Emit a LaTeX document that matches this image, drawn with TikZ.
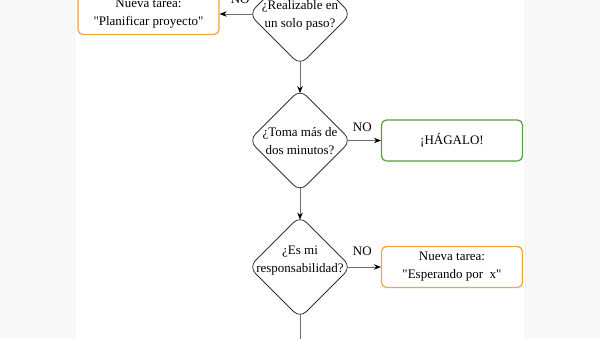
\documentclass[tikz,border=0pt]{standalone}
\usepackage{fontspec}
\setmainfont{Liberation Serif}[Ligatures=TeXOff]
\usetikzlibrary{shapes.geometric,arrows.meta}
\definecolor{pagebg}{HTML}{F8F8F8}
\definecolor{orangeb}{HTML}{F2A33A}
\definecolor{greenb}{HTML}{5A9E3C}
\definecolor{linegray}{HTML}{6E6E6E}
\begin{document}
\begin{tikzpicture}[x=1pt,y=-1pt,
  txt/.style={font=\fontsize{13}{18}\selectfont},
  decision/.style={diamond, draw=black!80, line width=0.8pt, rounded corners=9pt,
    minimum width=102pt, minimum height=102pt, inner sep=0pt, outer sep=0pt},
  dlabel/.style={txt, align=center, inner sep=0pt},
  taskbox/.style={rectangle, draw=orangeb, line width=1.2pt, rounded corners=5pt,
    minimum width=141pt, minimum height=41pt, align=center, txt, inner sep=0pt},
  donebox/.style={taskbox, draw=greenb},
  flow/.style={draw=linegray, line width=0.9pt,
    -{Stealth[length=7pt,width=5.5pt,color=black]}},
  inset/.style={shorten <=-3.6pt},
  insetboth/.style={shorten <=-3.6pt, shorten >=-3.6pt},
  nolabel/.style={txt, inner sep=0pt}
]
\useasboundingbox (0,0) rectangle (600,338);
\fill[pagebg] (0,0) rectangle (600,338);
\fill[white] (75,0) rectangle (525,338);
\draw[black!5, line width=0.6pt] (74.7,0) -- (74.7,338);
\draw[black!5, line width=0.6pt] (525.3,0) -- (525.3,338);

\node[decision, label={[dlabel, yshift=-1pt]center:{¿Realizable en\\un solo paso?}}] (d1) at (300,14) {};
\node[taskbox] (t1) at (148.5,14) {Nueva tarea:\\"Planificar proyecto"};
\node[decision, label={[dlabel, yshift=-1pt]center:{¿Toma más de\\dos minutos?}}] (d2) at (300,140.5) {};
\node[donebox] (g) at (452,140.5) {¡HÁGALO!};
\node[decision, label={[dlabel, yshift=6pt]center:{¿Es mi\\responsabilidad?}}] (d3) at (300,267) {};
\node[taskbox] (t2) at (452,267) {Nueva tarea:\\"Esperando por\ \ x"};
\coordinate (end) at (300,346);

\draw[flow, inset] (d1.west) -- node[nolabel, pos=0.3, yshift=15pt] (no1) {NO} (t1.east);
\draw[flow, insetboth] (d1.south) -- (d2.north);
\draw[flow, inset] (d2.east) -- node[nolabel, pos=0.38, yshift=13pt] (no2) {NO} (g.west);
\draw[flow, insetboth] (d2.south) -- (d3.north);
\draw[flow, inset] (d3.east) -- node[nolabel, pos=0.38, yshift=16pt] (no3) {NO} (t2.west);
\draw[flow, inset] (d3.south) -- (end);
\end{tikzpicture}
\end{document}
